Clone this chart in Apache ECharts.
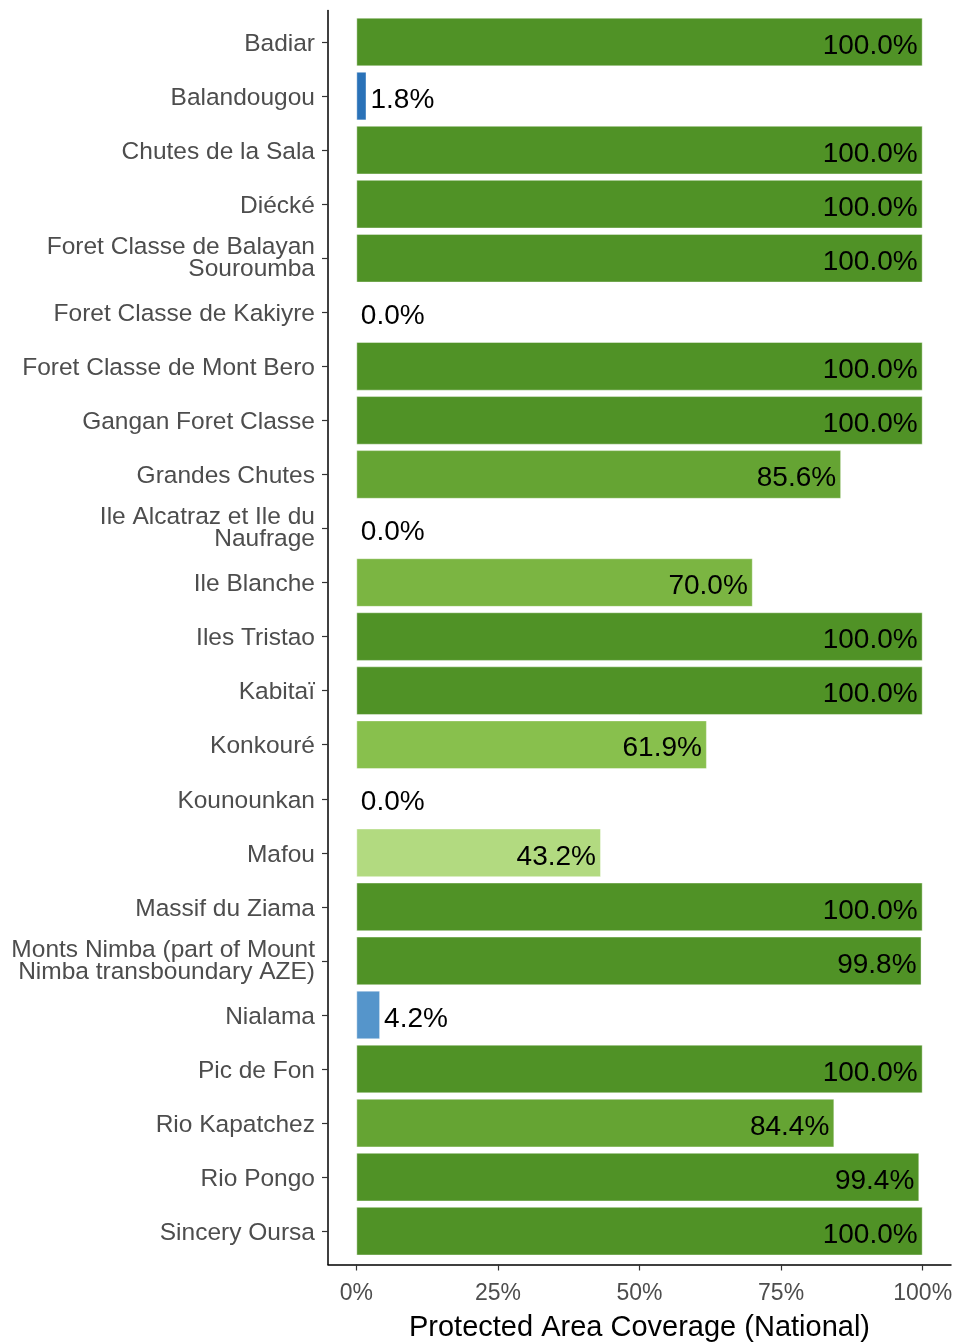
<!DOCTYPE html>
<html>
<head>
<meta charset="utf-8">
<script src="https://cdn.jsdelivr.net/npm/echarts@6/dist/echarts.min.js"></script>
<style>
  html, body { margin: 0; padding: 0; background: #fff; }
  #chart { width: 958px; height: 1342px; }
</style>
</head>
<body>
<div id="chart"></div>
<script>
const sites = [
  'Badiar', 'Balandougou', 'Chutes de la Sala', 'Diécké',
  'Foret Classe de Balayan\nSouroumba', 'Foret Classe de Kakiyre',
  'Foret Classe de Mont Bero', 'Gangan Foret Classe', 'Grandes Chutes',
  'Ile Alcatraz et Ile du\nNaufrage', 'Ile Blanche', 'Iles Tristao', 'Kabitaï',
  'Konkouré', 'Kounounkan', 'Mafou', 'Massif du Ziama',
  'Monts Nimba (part of Mount\nNimba transboundary AZE)', 'Nialama',
  'Pic de Fon', 'Rio Kapatchez', 'Rio Pongo', 'Sincery Oursa'
]
const coverage = [
  100, 1.8, 100, 100, 100, 0, 100, 100, 85.6, 0, 70, 100, 100,
  61.9, 0, 43.2, 100, 99.8, 4.2, 100, 84.4, 99.4, 100
]
const xTicks = [0, 25, 50, 75, 100]

// fill scale
function fillFor(v) {
  if (v < 3) return '#2a72b8'
  if (v < 10) return '#5595cb'
  if (v < 50) return '#b2da80'
  if (v < 65) return '#88c04d'
  if (v < 80) return '#7bb542'
  if (v < 99) return '#65a433'
  return '#509226'
}

const font = 'Liberation Sans, Arial, sans-serif'

const chart = echarts.init(document.getElementById('chart'))

const option = {
  animation: false,
  grid: [
    { left: 328, right: 7, top: 15, height: 1243.2, outerBoundsMode: 'none', containLabel: false },
    { left: 328, right: 7, top: 10.6, bottom: 77.5, outerBoundsMode: 'none', containLabel: false }
  ],
  xAxis: [
    {
      gridIndex: 0, type: 'value', min: -5, max: 105, show: false
    },
    {
      gridIndex: 1, type: 'value', min: -5, max: 105,
      axisLine: { show: true, onZero: false, lineStyle: { color: '#000', width: 1.5 } },
      axisTick: { show: true, length: 6, customValues: xTicks, lineStyle: { color: '#333', width: 1.2 } },
      axisLabel: {
        customValues: xTicks, margin: 18, fontSize: 23, color: '#4d4d4d', fontFamily: font,
        formatter: v => v + '%'
      },
      splitLine: { show: false },
      name: 'Protected Area Coverage (National)',
      nameLocation: 'middle', nameGap: 49,
      nameTextStyle: { fontSize: 29, color: '#000', fontFamily: font }
    }
  ],
  yAxis: [
    {
      gridIndex: 0, type: 'category', inverse: true, data: sites,
      axisLine: { show: false, onZero: false },
      axisTick: { show: true, alignWithLabel: true, length: 6, lineStyle: { color: '#333', width: 1.2 } },
      axisLabel: {
        margin: 13, interval: 0,
        fontSize: 24.5, lineHeight: 22, color: '#4d4d4d', fontFamily: font,
        // single-line names sit a touch below the tick in the original
        formatter: v => v.indexOf('\n') < 0 ? '{n|' + v + '}' : v,
        rich: {
          n: {
            fontSize: 24.5, lineHeight: 18, padding: [4, 0, 0, 0],
            color: '#4d4d4d', fontFamily: font
          }
        }
      },
      splitLine: { show: false }
    },
    {
      gridIndex: 1, type: 'value', min: 0, max: 1,
      axisLine: { show: true, onZero: false, lineStyle: { color: '#000', width: 1.5 } },
      axisTick: { show: false }, axisLabel: { show: false }, splitLine: { show: false }
    }
  ],
  series: [
    {
      type: 'bar',
      xAxisIndex: 0, yAxisIndex: 0,
      barWidth: '90%',
      data: coverage.map(v => ({
        value: v,
        itemStyle: { color: fillFor(v) },
        label: v < 10
          ? { position: 'right', distance: 4 }
          : { position: 'insideRight', distance: 5 }
      })),
      itemStyle: { borderColor: 'rgba(255,255,255,0.4)', borderWidth: 1 },
      label: {
        show: true, fontSize: 28, color: '#000', fontFamily: font,
        offset: [0, 4],
        formatter: p => p.value.toFixed(1) + '%'
      }
    }
  ]
}

chart.setOption(option)
window.addEventListener('resize', () => chart.resize())
</script>
</body>
</html>
